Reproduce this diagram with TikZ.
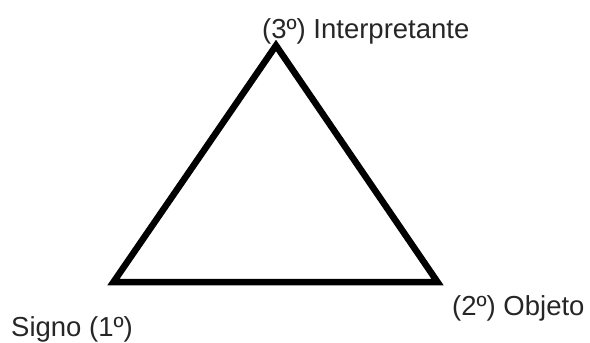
\documentclass[tikz,border=0pt]{standalone}
\usepackage{fontspec}
\setmainfont{Liberation Sans}
\usetikzlibrary{positioning}

\begin{document}
\begin{tikzpicture}[
x=1pt,y=-1pt,
side/.style={line width=6.5pt,line join=miter},
lab/.style={inner sep=0pt,anchor=base west,font=\fontsize{27.5}{32}\selectfont,text=black!85}
]
\useasboundingbox (0,0) rectangle (590,343);
\coordinate (interp) at (276,45.5);
\coordinate (signo) at (113.5,282);
\coordinate (objeto) at (437.5,282);

\node[lab] (tinterp) at (262,38) {(3º) Interpretante};
\node[lab] (tsigno) at (11,336) {Signo (1º)};
\node[lab] (tobjeto) at (452,315) {(2º) Objeto};

\draw[side] (signo) -- (interp) -- (objeto) -- cycle;
\end{tikzpicture}
\end{document}
